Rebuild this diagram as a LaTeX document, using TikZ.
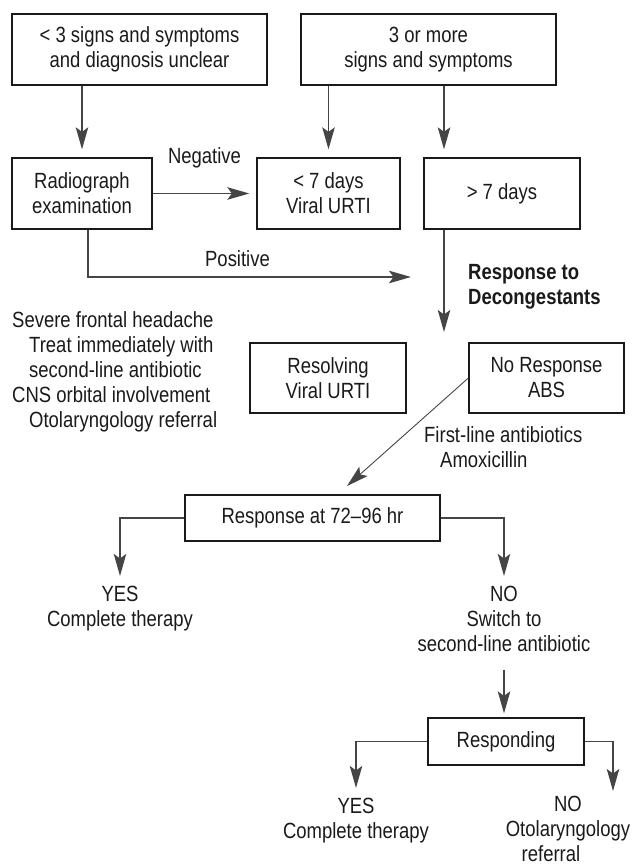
\documentclass[tikz,border=0pt]{standalone}
\usepackage{fontspec}
\setmainfont{Liberation Sans}[FakeStretch=0.84]
\usetikzlibrary{arrows.meta}
\definecolor{ink}{HTML}{1A1A1A}
\definecolor{wire}{HTML}{454545}
\begin{document}
\begin{tikzpicture}[x=1pt,y=-1pt,
  every node/.style={font=\fontsize{22}{25}\selectfont, text=ink},
  box/.style={draw=ink, line width=1.3pt, inner sep=0pt, align=center},
  lbl/.style={inner sep=0pt, align=center},
  arr/.style={draw=wire, line width=1.3pt, -{Stealth[length=22pt,width=12.5pt,inset=4.5pt]}},
  boldtxt/.style={font=\fontsize{22}{25}\selectfont\bfseries}]
\useasboundingbox (0,0) rectangle (633,866);
% boxes
\node[box, minimum width=255pt, minimum height=71pt] (b1) at (139.5,49.5) {< 3 signs and symptoms\\and diagnosis unclear};
\node[box, minimum width=255pt, minimum height=71pt] (b2) at (428.5,49.5) {3 or more\\signs and symptoms};
\node[box, minimum width=140pt, minimum height=71pt] (rad) at (82,193.5) {Radiograph\\examination};
\node[box, minimum width=143pt, minimum height=71pt] (lt7) at (328.5,193.5) {< 7 days\\Viral URTI};
\node[box, minimum width=156pt, minimum height=71pt] (gt7) at (502,193.5) {> 7 days};
\node[box, minimum width=156pt, minimum height=70pt] (res) at (328,378) {Resolving\\Viral URTI};
\node[box, minimum width=155pt, minimum height=70pt] (nr) at (546.5,378) {No Response\\ABS};
\node[box, minimum width=255pt, minimum height=46pt] (r72) at (312.5,518) {Response at 72–96 hr};
\node[box, minimum width=156pt, minimum height=47pt] (rsp) at (506,741.5) {Responding};
% labels (base anchor = baseline of the last line)
\node[lbl, anchor=base] (neg) at (204.5,164) {Negative};
\node[lbl, anchor=base] (pos) at (237.5,266) {Positive};
\node[lbl, boldtxt, anchor=base west, align=left] (dec) at (468,304.5) {Response to\\Decongestants};
\node[lbl, anchor=base west, align=left] (sev) at (12,427) {Severe frontal headache\\\hspace*{17pt}Treat immediately with\\\hspace*{17pt}second-line antibiotic\\CNS orbital involvement\\\hspace*{17pt}Otolaryngology referral};
\node[lbl, anchor=base west, align=left] (fl) at (424,467) {First-line antibiotics\\\hspace*{16pt}Amoxicillin};
\node[lbl, anchor=base] (y1) at (120,626.5) {YES\\Complete therapy};
\node[lbl, anchor=base] (n1) at (504,651.5) {NO\\Switch to\\second-line antibiotic};
\node[lbl, anchor=base] (y2) at (356,838.5) {YES\\Complete therapy};
\node[lbl, anchor=base] (n2) at (568,861.5) {NO\\Otolaryngology\\referral\hspace*{34pt}};
% free ends
\coordinate (cdec) at (444,332);
\coordinate (cpos) at (411,277);
\coordinate (cdiag) at (347,486);
\coordinate (cn2) at (613,791);
% connectors
\draw[arr, shorten >=8pt] (b1.south -| rad.north) -- (rad.north);
\draw[arr, shorten >=8pt] (b2.south -| lt7.north) -- (lt7.north);
\draw[arr, shorten >=8pt] (b2.south -| cdec) -- (gt7.north -| cdec);
\draw[arr] (gt7.south -| cdec) -- (cdec);
\draw[arr, shorten >=7pt] (rad.east) -- (lt7.west);
\draw[arr] ([xshift=6pt]rad.south) |- (cpos);
\draw[arr, line width=0.9pt] (nr.west) -- (cdiag);
\draw[arr, shorten >=10pt] (r72.west) -| (y1.north);
\draw[arr, shorten >=10pt] (r72.east) -| (n1.north);
\draw[arr, shorten <=18pt, shorten >=4pt] (n1.south) -- (n1.south |- rsp.north);
\draw[arr, shorten >=10pt] (rsp.west) -| (y2.north);
\draw[arr] (rsp.east) -| (cn2);
\end{tikzpicture}
\end{document}
